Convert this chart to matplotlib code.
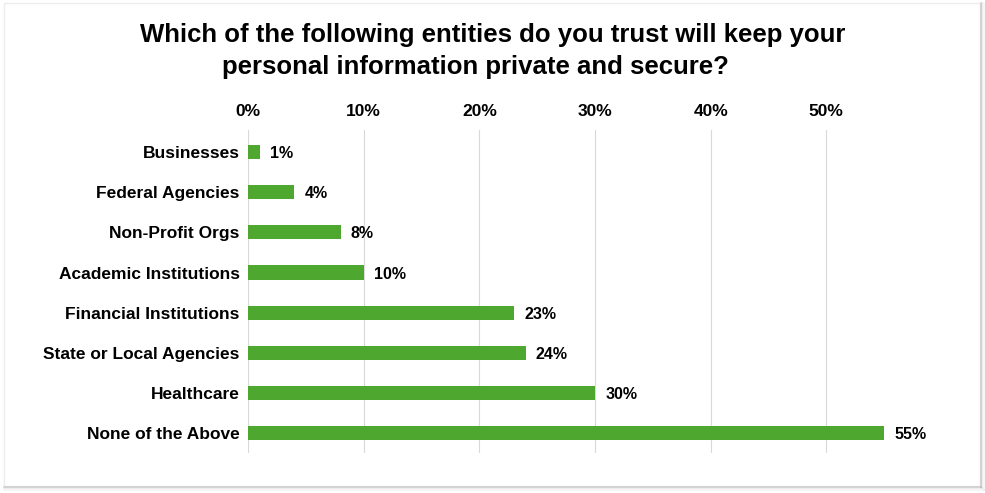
import matplotlib
matplotlib.use('Agg')
import matplotlib.pyplot as plt
from matplotlib.patches import Rectangle

# Survey data (top to bottom as shown)
categories = ['Businesses', 'Federal Agencies', 'Non-Profit Orgs', 'Academic Institutions',
              'Financial Institutions', 'State or Local Agencies', 'Healthcare', 'None of the Above']
values = [1, 4, 8, 10, 23, 24, 30, 55]
ticks = [0, 10, 20, 30, 40, 50]

plt.rcParams['font.family'] = ['Liberation Sans', 'DejaVu Sans']

fig = plt.figure(figsize=(9.85, 4.93), dpi=100)
fig.patch.set_facecolor('white')

# light frame, with a soft shadow on the right/bottom
fig.patches.append(Rectangle((0.004, 0.014), 0.991, 0.980, transform=fig.transFigure,
                             fill=False, edgecolor='#ececec', lw=1.0, zorder=0))
for i, a in enumerate([0.35, 0.2, 0.1]):
    off = (i + 1) * 0.0012
    fig.lines.append(plt.Line2D([0.995 + off, 0.995 + off], [0.014 - off * 2, 0.994],
                                transform=fig.transFigure, color=(0.6, 0.6, 0.6, a), lw=1.2))
    fig.lines.append(plt.Line2D([0.004, 0.995 + off], [0.014 - off * 2, 0.014 - off * 2],
                                transform=fig.transFigure, color=(0.6, 0.6, 0.6, a), lw=1.2))

ax = fig.add_axes([0.2518, 0.0811, 0.681, 0.655])
y = list(range(len(categories)))
ax.barh(y, values, height=0.35, color='#4ea72e', zorder=3)
ax.set_ylim(len(categories) - 0.5, -0.55)
ax.set_xlim(0, 58)

for yi, v in zip(y, values):
    ax.text(v + 0.9, yi + 0.04, f'{v}%', va='center', ha='left',
            fontsize=11.5, fontweight='bold', color='black')

ax.set_yticks(y)
ax.set_yticklabels(categories, fontsize=12.5, fontweight='bold')
ax.set_xticks(ticks)
ax.set_xticklabels([f'{t}%' for t in ticks], fontsize=12.5, fontweight='bold')
ax.xaxis.tick_top()
ax.tick_params(axis='both', length=0)
ax.tick_params(axis='x', pad=8)
ax.tick_params(axis='y', pad=6)
ax.grid(axis='x', color='#d9d9d9', lw=0.8, zorder=0)
for s in ax.spines.values():
    s.set_visible(False)

fig.text(0.5, 0.93, 'Which of the following entities do you trust will keep your',
         ha='center', va='center', fontsize=18.5, fontweight='bold')
fig.text(0.483, 0.865, 'personal information private and secure?',
         ha='center', va='center', fontsize=18.5, fontweight='bold')

fig.savefig('out.png', dpi=100)
